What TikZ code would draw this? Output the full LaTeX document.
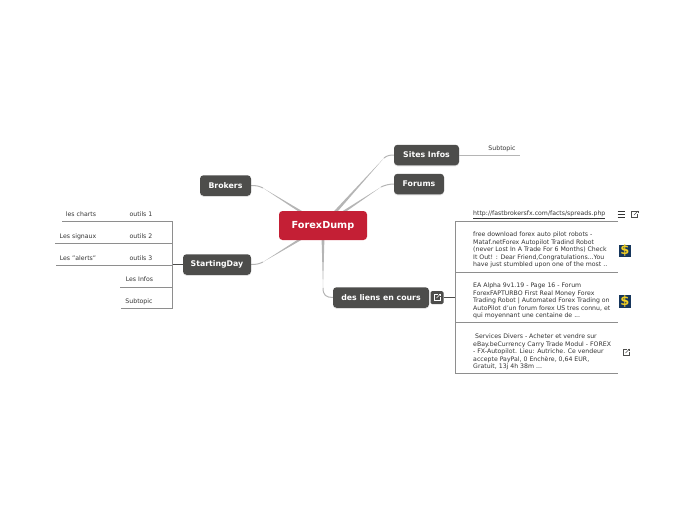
\documentclass[tikz,border=0pt]{standalone}
\usepackage{fontspec}
\setmainfont{DejaVu Sans}
\usetikzlibrary{calc,positioning,arrows.meta,shadows,backgrounds}
\definecolor{topicgray}{HTML}{4D4D4B}
\definecolor{rootred}{HTML}{C41F35}
\definecolor{linegray}{HTML}{B5B5B5}
\definecolor{leafgray}{HTML}{8E8E8E}
\definecolor{leaftext}{HTML}{333333}
\definecolor{dollarblue}{HTML}{16365C}
\definecolor{dollargold}{HTML}{F2D024}
\newcommand{\taper}[1]{\fill[linegray] ($(root.center)!1.8pt!90:(#1)$) -- (#1) -- ($(root.center)!1.8pt!-90:(#1)$) -- cycle;}

\begin{document}
\begin{tikzpicture}[
                x=1pt, y=-1pt,
                root_box/.style={rectangle, rounded corners=3.5pt, fill=rootred, text=white, font=\bfseries\fontsize{9.7}{11}\selectfont, minimum width=88pt, minimum height=29pt, inner sep=0pt},
                topic_box/.style={rectangle, rounded corners=3.5pt, fill=topicgray, text=white, font=\bfseries\fontsize{7.8}{9}\selectfont, minimum height=20.5pt, inner sep=0pt, drop shadow={opacity=0.25, shadow xshift=0pt, shadow yshift=-1pt}},
                leaf/.style={text=leaftext, font=\fontsize{6.2}{7}\selectfont, inner sep=0pt},
                para/.style={leaf, anchor=west, align=left, font=\fontsize{6.2}{7.4}\selectfont},
                branch/.style={draw=linegray, line width=1pt},
                leafline/.style={draw=leafgray, line width=0.9pt},
                dollar_icon/.style={rectangle, fill=dollarblue, text=dollargold, font=\bfseries\fontsize{13}{13}\selectfont, minimum size=12.5pt, inner sep=0pt},
                linkicon/.pic={
                    \draw[pic actions, line width=0.6pt] (1,-3) -- (-3,-3) -- (-3,3) -- (3,3) -- (3,-1);
                    \draw[pic actions, line width=0.6pt] (-0.5,0.5) -- (3.5,-3.5);
                    \draw[pic actions, line width=0.6pt] (1.5,-3.5) -- (3.5,-3.5) -- (3.5,-1.5);
                },
                menuicon/.pic={
                    \draw[leaftext, line width=0.8pt] (-3.5,-3) -- (3.5,-3) (-3.5,0) -- (3.5,0) (-3.5,3) -- (3.5,3);
                }
            ]
                \useasboundingbox (0,0) rectangle (697,520);

                \node[root_box] (root) at (323,225.5) {ForexDump};
                \node[topic_box, minimum width=51pt] (brokers) at (225.5,185.5) {Brokers};
                \node[topic_box, minimum width=68pt] (starting) at (217,264.5) {StartingDay};
                \node[topic_box, minimum width=65pt] (sites) at (426.5,155) {Sites Infos};
                \node[topic_box, minimum width=50pt] (forums) at (419,184) {Forums};
                \node[topic_box, minimum width=96pt] (liens) at (381,297.5) {des liens en cours};
                \node[rectangle, rounded corners=1.5pt, fill=topicgray, minimum size=13pt, inner sep=0pt] (linkbox) at (437,297.5) {};
                \pic[draw=white] at (linkbox) {linkicon};

                \coordinate (bendbrokers) at (263,188);
                \coordinate (bendstarting) at (263,262);
                \coordinate (bendsites) at (384,158);
                \coordinate (bendforums) at (381,187);
                \coordinate (bendliens) at (323,288);
                \begin{scope}[on background layer]
                    \taper{bendbrokers}
                    \draw[branch] (bendbrokers) .. controls (258,185.5) and (255,185.5) .. (brokers.east);
                    \taper{bendstarting}
                    \draw[branch] (bendstarting) .. controls (258,264.5) and (255,264.5) .. (starting.east);
                    \taper{bendsites}
                    \draw[branch] (bendsites) .. controls (387,155.5) and (390,155) .. (sites.west);
                    \taper{bendforums}
                    \draw[branch] (bendforums) .. controls (385,185) and (390,184) .. (forums.west);
                    \taper{bendliens}
                    \draw[branch] (bendliens) .. controls (323,295) and (326,297.5) .. (liens.west);
                \end{scope}

                \node[leaf] (subsites) at (502,148.5) {Subtopic};
                \coordinate (endsites) at (520,155);
                \draw[branch] (sites.east) -- (endsites);

                \coordinate (hubright) at (455,297.5);
                \draw[topicgray, line width=1pt] (linkbox.east) -- (hubright);
                \coordinate (rowa) at (618,221.5);
                \coordinate (rowb) at (618,272);
                \coordinate (rowc) at (618,322.5);
                \coordinate (rowd) at (618,373);
                \draw[leafline] (rowa) -- (hubright |- rowa) -- (hubright |- rowd) -- (rowd);
                \draw[leafline] (hubright |- rowb) -- (rowb);
                \draw[leafline] (hubright |- rowc) -- (rowc);

                \node[para] (url) at (473,215) {\underline{http://fastbrokersfx.com/facts/spreads.php}};
                \node[para] (para1) at (473,250) {free download forex auto pilot robots -\\Mataf.netForex Autopilot Tradind Robot\\(never Lost In A Trade For 6 Months) Check\\It Out! : Dear Friend,Congratulations...You\\have just stumbled upon one of the most ..};
                \node[para] (para2) at (473,301) {EA Alpha 9v1.19 - Page 16 - Forum\\ForexFAPTURBO First Real Money Forex\\Trading Robot | Automated Forex Trading on\\AutoPilot d'un forum forex US tres connu, et\\qui moyennant une centaine de ...};
                \node[para] (para3) at (473,352) {\ Services Divers - Acheter et vendre sur\\eBay.beCurrency Carry Trade Modul - FOREX\\- FX-Autopilot. Lieu: Autriche. Ce vendeur\\accepte PayPal, 0 Enchère, 0,64 EUR,\\Gratuit, 13j 4h 38m ...};

                \pic at (621,214.5) {menuicon};
                \pic[draw=topicgray] at (634.5,214.5) {linkicon};
                \node[dollar_icon] (dollar1) at (625,251) {\$};
                \node[dollar_icon] (dollar2) at (625,301.5) {\$};
                \pic[draw=topicgray] at (626,352.5) {linkicon};

                \coordinate (hubleft) at (172,264.5);
                \draw[topicgray, line width=1pt] (starting.west) -- (hubleft);
                \node[leaf] (charts) at (81,214.5) {les charts};
                \node[leaf] (outil1) at (141,214.5) {outils 1};
                \node[leaf] (signaux) at (78,236.5) {Les signaux};
                \node[leaf] (outil2) at (141,236.5) {outils 2};
                \node[leaf] (alerts) at (78,258) {Les "alerts"};
                \node[leaf] (outil3) at (141,258) {outils 3};
                \node[leaf] (infos) at (139.5,279.5) {Les Infos};
                \node[leaf] (subday) at (139,301.5) {Subtopic};
                \coordinate (enda) at (62,221.5);
                \coordinate (endb) at (55,243);
                \coordinate (endc) at (56,265);
                \coordinate (endd) at (120,287);
                \coordinate (ende) at (121,308);
                \draw[leafline] (enda) -- (hubleft |- enda) -- (hubleft |- ende) -- (ende);
                \draw[leafline] (endb) -- (hubleft |- endb);
                \draw[leafline] (endc) -- (hubleft |- endc);
                \draw[leafline] (endd) -- (hubleft |- endd);
            \end{tikzpicture}
\end{document}
